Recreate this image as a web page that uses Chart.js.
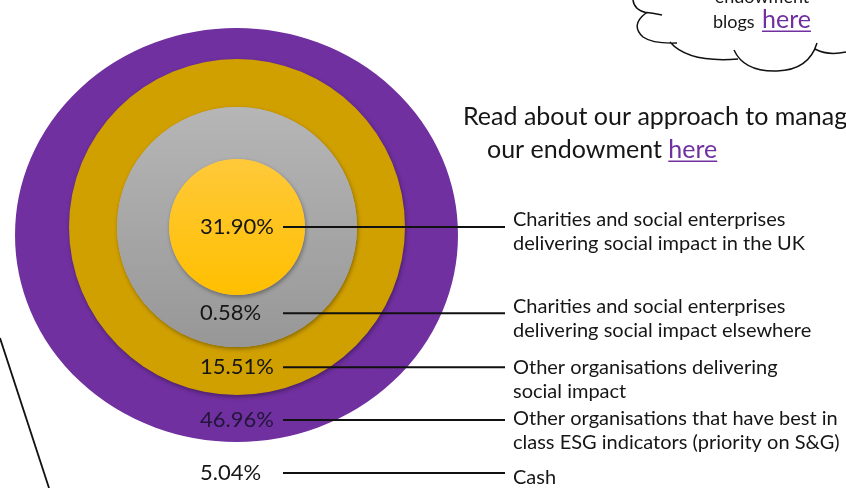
<!DOCTYPE html>
<html>
<head>
<meta charset="utf-8">
<script src="https://cdn.jsdelivr.net/npm/chart.js@4.4.0/dist/chart.umd.min.js"></script>
<style>
  html, body { margin: 0; padding: 0; background: #fff; }
  #wrap { width: 846px; height: 488px; position: relative; overflow: hidden; }
</style>
</head>
<body>
<div id="wrap"><canvas id="rings" width="846" height="488"></canvas></div>
<script>
// ---------------------------------------------------------------
// Data: share of the endowment per category
// ---------------------------------------------------------------
const segmentNames = [
    'Charities and social enterprises delivering social impact in the UK',
    'Charities and social enterprises delivering social impact elsewhere',
    'Other organisations delivering social impact',
    'Other organisations that have best in class ESG indicators (priority on S&G)',
    'Cash'
];
const segmentLines = [
    ['Charities and social enterprises', 'delivering social impact in the UK'],
    ['Charities and social enterprises', 'delivering social impact elsewhere'],
    ['Other organisations delivering', 'social impact'],
    ['Other organisations that have best in', 'class ESG indicators (priority on S&G)'],
    ['Cash']
];
const segmentShares = [31.90, 0.58, 15.51, 46.96, 5.04];
// segment shown on each ring, outside -> inside (cash has no ring)
const ringSegments = [3, 2, 1, 0];

// ---------------------------------------------------------------
// Look of the rings
// ---------------------------------------------------------------
const ringColors = ['#7030A0', '#D09F00', ['#B6B6B6', '#979797'], ['#FFC93A', '#FFBF00']];
const ringWeights = [36, 48, 52, 68];
const ringBorder = [20, 0, 0, 0];
// the outer ring is a little wider than tall and sits a bit lower
const ringShape = [{ sx: 1.035, sy: 0.967, dx: -0.5, dy: 8 }, null, null, null];
// where the callout line leaves the ring (fraction of the lower band)
const calloutBand = [0.53, 0.42, 0.35, null];
// vertical shift of the right-hand text block vs. its callout line
const textShift = [-7, -7, 0, -1, 5];

const FONT = 'Lato, "Open Sans", sans-serif';
const INK = '#161616';
const LINK = '#7030A0';

function ringFill(i) {
    const c = ringColors[i];
    if (!Array.isArray(c)) return c;
    return (context) => {
        const chart = context.chart;
        const area = chart.chartArea;
        if (!area) return c[1];
        const ctrl = chart.getDatasetMeta(context.datasetIndex).controller;
        const cy = (area.top + area.bottom) / 2;
        const r = ctrl.outerRadius || 100;
        const g = chart.ctx.createLinearGradient(0, cy - r, 0, cy + r);
        g.addColorStop(0, c[0]);
        g.addColorStop(1, c[1]);
        return g;
    };
}

// soft shadow + shape tweak for each ring
const ringLook = {
    id: 'ringLook',
    beforeDatasetDraw(chart, args) {
        const ctx = chart.ctx;
        ctx.save();
        const shape = ringShape[args.index];
        if (shape) {
            const arc = args.meta.data[0];
            ctx.translate(arc.x + shape.dx, arc.y + shape.dy);
            ctx.scale(shape.sx, shape.sy);
            ctx.translate(-arc.x, -arc.y);
        }
        if (!ringBorder[args.index]) {
            ctx.shadowColor = 'rgba(0,0,0,0.35)';
            ctx.shadowBlur = 4;
            ctx.shadowOffsetX = 1;
            ctx.shadowOffsetY = 2;
        }
    },
    afterDatasetDraw(chart) {
        chart.ctx.restore();
    }
};

function underlined(ctx, text, x, y, size, color) {
    ctx.fillStyle = color;
    ctx.fillText(text, x, y);
    const w = ctx.measureText(text).width;
    ctx.strokeStyle = color;
    ctx.lineWidth = 1.5;
    ctx.beginPath();
    ctx.moveTo(x, y + size * 0.45);
    ctx.lineTo(x + w, y + size * 0.45);
    ctx.stroke();
    return w;
}

// percentage labels, callout lines, category texts and the extras
const callouts = {
    id: 'callouts',
    afterDatasetsDraw(chart) {
        const ctx = chart.ctx;
        const center = chart.getDatasetMeta(0).data[0];
        const bottoms = ringSegments.map((seg, i) => {
            const arc = chart.getDatasetMeta(i).data[0];
            const s = ringShape[i] || { sx: 1, sy: 1, dx: 0, dy: 0 };
            return arc.y + s.dy + (arc.outerRadius + ringBorder[i] / 2) * s.sy;
        });
        const anchorY = new Array(segmentShares.length);
        ringSegments.forEach((seg, i) => {
            if (i === ringSegments.length - 1) {
                anchorY[seg] = chart.getDatasetMeta(i).data[0].y;
            } else {
                anchorY[seg] = bottoms[i + 1] + calloutBand[i] * (bottoms[i] - bottoms[i + 1]);
            }
        });
        anchorY[4] = bottoms[0] + 31;

        const labelX = center.x - 37;
        const lineX0 = center.x + 46;
        const lineX1 = 505;
        const textX = 513;

        ctx.save();
        ctx.textBaseline = 'middle';
        ctx.textAlign = 'left';
        segmentShares.forEach((v, k) => {
            const y = anchorY[k];
            ctx.font = '22px ' + FONT;
            ctx.fillStyle = k === 3 ? '#22163a' : INK;
            ctx.fillText(v.toFixed(2) + '%', labelX, y);

            ctx.strokeStyle = '#111';
            ctx.lineWidth = 2;
            ctx.beginPath();
            ctx.moveTo(lineX0, y);
            ctx.lineTo(lineX1, y);
            ctx.stroke();

            ctx.font = '20px ' + FONT;
            ctx.fillStyle = INK;
            segmentLines[k].forEach((line, j) => {
                ctx.fillText(line, textX, y + textShift[k] + j * 24);
            });
        });
        ctx.restore();
    },
    afterDraw(chart) {
        const ctx = chart.ctx;
        ctx.save();
        ctx.textBaseline = 'middle';
        ctx.textAlign = 'left';

        // link text to the right of the rings
        ctx.font = '25px ' + FONT;
        ctx.fillStyle = INK;
        ctx.fillText('Read about our approach to managing', 463, 117);
        ctx.fillText('our endowment ', 487, 150);
        const w = ctx.measureText('our endowment ').width;
        underlined(ctx, 'here', 487 + w, 150, 25, LINK);

        // thought cloud in the corner
        ctx.strokeStyle = '#111';
        ctx.lineWidth = 1.5;
        ctx.beginPath();
        ctx.moveTo(633, 0);
        ctx.quadraticCurveTo(634, 10, 647, 13);
        ctx.moveTo(643, 12);
        ctx.quadraticCurveTo(653, 13, 662, 15);
        ctx.moveTo(646, 13);
        ctx.quadraticCurveTo(630, 25, 643, 37);
        ctx.quadraticCurveTo(653, 44, 677, 43);
        ctx.moveTo(670, 42);
        ctx.quadraticCurveTo(688, 63, 738, 59);
        ctx.moveTo(734, 50);
        ctx.quadraticCurveTo(744, 72, 777, 71);
        ctx.quadraticCurveTo(809, 70, 817, 43);
        ctx.moveTo(815, 49);
        ctx.quadraticCurveTo(828, 56, 846, 52);
        ctx.stroke();

        ctx.font = '18px ' + FONT;
        ctx.fillStyle = INK;
        ctx.textAlign = 'center';
        ctx.fillText('endowment', 762, -3);
        ctx.textAlign = 'left';
        ctx.fillText('blogs', 713, 22);
        ctx.font = '25px ' + FONT;
        underlined(ctx, 'here', 762, 20, 25, LINK);

        // stray connector line on the left
        ctx.strokeStyle = '#111';
        ctx.lineWidth = 1.8;
        ctx.beginPath();
        ctx.moveTo(0, 338);
        ctx.lineTo(49, 488);
        ctx.stroke();
        ctx.restore();
    }
};

new Chart(document.getElementById('rings'), {
    type: 'doughnut',
    data: {
        labels: ['Share'],
        datasets: ringSegments.map((seg, i) => ({
            label: segmentNames[seg],
            data: [segmentShares[seg]],
            backgroundColor: ringFill(i),
            borderColor: Array.isArray(ringColors[i]) ? ringColors[i][1] : ringColors[i],
            borderWidth: ringBorder[i],
            hoverBorderWidth: ringBorder[i],
            borderJoinStyle: 'round',
            weight: ringWeights[i],
            order: ringSegments.length - i,
            clip: false
        }))
    },
    options: {
        responsive: false,
        animation: false,
        events: [],
        cutout: 0,
        layout: { padding: { left: 23, right: 395, top: 13, bottom: 47 } },
        plugins: {
            legend: { display: false },
            tooltip: { enabled: false }
        }
    },
    plugins: [ringLook, callouts]
});
</script>
</body>
</html>
